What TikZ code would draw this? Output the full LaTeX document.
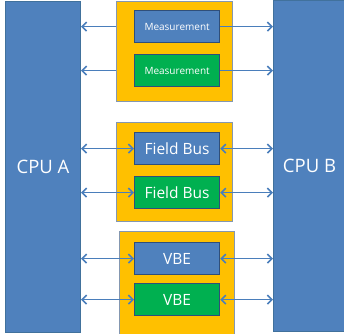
\documentclass[tikz,border=0pt]{standalone}
\usepackage{fontspec}
\setmainfont{Open Sans}
\usetikzlibrary{arrows.meta}
\definecolor{cpublue}{HTML}{4F81BD}
\definecolor{cpuedge}{HTML}{41719C}
\definecolor{boxedge}{HTML}{2F4F7A}
\definecolor{amber}{HTML}{FFC000}
\definecolor{amberedge}{HTML}{8497B0}
\definecolor{okgreen}{HTML}{00B050}
\definecolor{linkblue}{HTML}{4A7EBB}
\tikzset{
  cpu/.style={draw=cpuedge, fill=cpublue, line width=1pt, text=white, font=\fontsize{18.5}{20}\selectfont},
  group/.style={draw=amberedge, fill=amber, line width=0.8pt},
  unit/.style={draw=boxedge, line width=1.2pt, text=white, minimum width=85pt, minimum height=32pt, inner sep=0pt},
  bluebox/.style={unit, fill=cpublue},
  greenbox/.style={unit, fill=okgreen},
  tip/.style={},
  link/.style={draw=linkblue, line width=1.6pt, -{Straight Barb[length=4.5pt,width=9pt]}},
  dlink/.style={draw=linkblue, line width=1.6pt, {Straight Barb[length=4.5pt,width=9pt]}-{Straight Barb[length=4.5pt,width=9pt]}},
  small/.style={font=\fontsize{10}{12}\selectfont},
  large/.style={font=\fontsize{15.5}{17}\selectfont}
}
\begin{document}
\begin{tikzpicture}[x=1pt,y=-1pt]
\useasboundingbox (0,0) rectangle (344,333);
% processors
\node[cpu, minimum width=75pt, minimum height=331pt, anchor=north west] (cpua) at (5,1) {CPU A};
\node[cpu, minimum width=72pt, minimum height=331pt, anchor=north west] (cpub) at (273,0) {CPU B};
% groups
\node[group, minimum width=116pt, minimum height=100pt, anchor=north west] (g1) at (116,1) {};
\node[group, minimum width=116pt, minimum height=99pt, anchor=north west] (g2) at (116,122) {};
\node[group, minimum width=115pt, minimum height=103pt, anchor=north west] (g3) at (119,231) {};
% units
\node[bluebox, small, anchor=north west] (m1) at (134,10) {Measurement};
\node[greenbox, small, anchor=north west] (m2) at (134,54) {Measurement};
\node[bluebox, large, anchor=north west] (f1) at (134,132) {Field Bus};
\node[greenbox, large, anchor=north west] (f2) at (134,176) {Field Bus};
\node[bluebox, large, anchor=north west] (v1) at (134,242) {VBE};
\node[greenbox, large, anchor=north west] (v2) at (134,283) {VBE};
% measurement links (outgoing)
\foreach \n in {m1,m2}{
  \draw[link] (g1.west |- \n.west) -- (cpua.east |- \n.west);
  \draw[link] (\n.east) -- (cpub.west |- \n.east);
}
% bidirectional links
\foreach \n in {f1,f2,v1,v2}{
  \draw[dlink] (cpua.east |- \n.west) -- (\n.west);
  \draw[dlink] (\n.east) -- (cpub.west |- \n.east);
}
\end{tikzpicture}
\end{document}
